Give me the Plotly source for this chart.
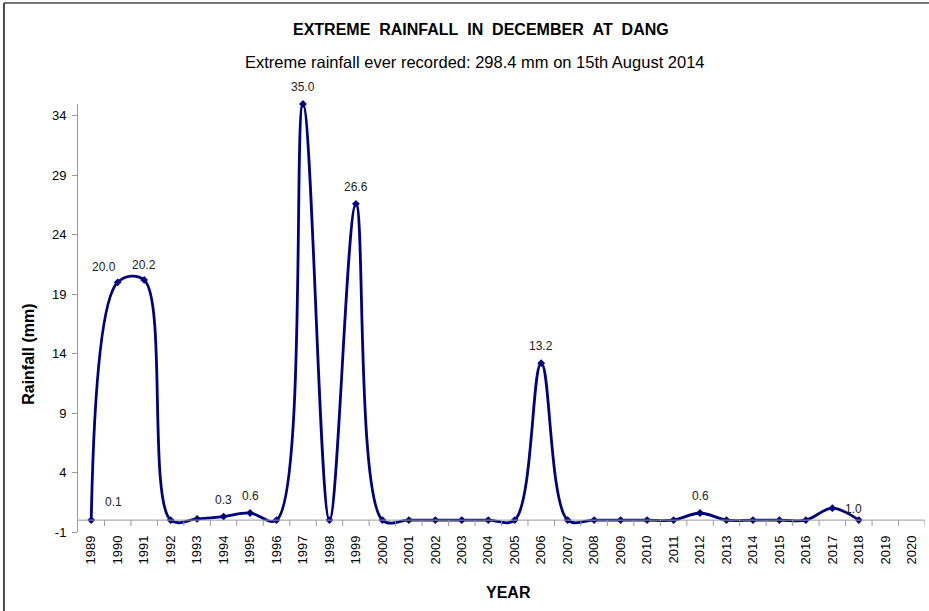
import plotly.graph_objects as go

years = [str(y) for y in range(1989, 2021)]
rainfall = [0, 20.0, 20.2, 0, 0.1, 0.3, 0.6, 0, 35.0, 0, 26.6, 0, 0, 0, 0, 0, 0, 13.2, 0,
            0, 0, 0, 0, 0.6, 0, 0, 0, 0, 1.0, 0, None, None]

# data labels as shown on the chart: (category where drawn, value shown, nudges in px)
label_years = ["1990", "1991", "1990", "1994", "1995", "1997", "1999", "2006", "2012", "2018"]
label_values = [20.0, 20.2, 0.1, 0.3, 0.6, 35.0, 26.6, 13.2, 0.6, 1.0]
label_xshift = [-14, 0, -4, 0, 0, 0, 0, 0, 0, -5]
label_yshift = [6, 6, 8, 8, 8, 8, 8, 8, 8, -10]

y_ticks = [-1, 4, 9, 14, 19, 24, 29, 34]
y_ticktext = ["-1", "4", "9", "14", "19", "24", "29", "34"]

NAVY = "#000080"
FONT = "Liberation Sans, Arial, sans-serif"

fig = go.Figure()
fig.add_trace(go.Scatter(
    x=years, y=rainfall, mode="lines+markers",
    line=dict(color=NAVY, width=2.8, shape="spline", smoothing=1.0),
    marker=dict(symbol="diamond", size=6, color=NAVY),
    connectgaps=False, cliponaxis=False, hoverinfo="x+y",
))

annotations = []
for yr, v, xs, ys in zip(label_years, label_values, label_xshift, label_yshift):
    annotations.append(dict(x=years.index(yr), y=v, xref="x", yref="y", text=f"{v:.1f}",
                            showarrow=False, xshift=xs, yshift=ys, xanchor="center",
                            yanchor="bottom", font=dict(size=12, color="#222", family=FONT)))

annotations += [
    dict(xref="paper", yref="paper", x=0.476, y=1.175, showarrow=False,
         xanchor="center", yanchor="middle",
         text="EXTREME\u00a0\u00a0RAINFALL\u00a0\u00a0IN\u00a0\u00a0DECEMBER\u00a0\u00a0AT\u00a0\u00a0DANG",
         font=dict(size=16, color="#000", family=FONT, weight="bold")),
    dict(xref="paper", yref="paper", x=0.469, y=1.098, showarrow=False,
         xanchor="center", yanchor="middle",
         text="Extreme rainfall ever recorded: 298.4 mm on 15th August 2014",
         font=dict(size=16.5, color="#000", family=FONT)),
    dict(xref="paper", yref="paper", x=-0.058, y=0.416, showarrow=False, textangle=-90,
         xanchor="center", yanchor="middle",
         text="Rainfall (mm)", font=dict(size=16, color="#000", family=FONT, weight="bold")),
    dict(xref="paper", yref="paper", x=0.508, y=-0.141, showarrow=False,
         xanchor="center", yanchor="middle",
         text="YEAR", font=dict(size=16, color="#000", family=FONT, weight="bold")),
]

shapes = [
    dict(type="line", xref="paper", yref="y", x0=0, x1=1, y0=0, y1=0,
         line=dict(color="#9a9a9a", width=1)),
    dict(type="line", xref="paper", yref="paper", x0=-0.0874, x1=1.01, y0=1.236, y1=1.236,
         line=dict(color="#777", width=2)),
    dict(type="line", xref="paper", yref="paper", x0=-0.0874, x1=-0.0874, y0=1.236, y1=-0.2,
         line=dict(color="#111", width=1.5)),
]
for i in range(len(years)):
    shapes.append(dict(type="line", xref="x", yref="y", x0=i + 0.5, x1=i + 0.5, y0=0, y1=-0.5,
                       line=dict(color="#9a9a9a", width=1)))

fig.update_layout(
    width=929, height=611,
    margin=dict(l=78, r=4, t=104, b=79),
    paper_bgcolor="white", plot_bgcolor="white",
    showlegend=False,
    font=dict(family=FONT, size=12, color="#000"),
    annotations=annotations, shapes=shapes,
    xaxis=dict(type="category", range=[-0.5, len(years) - 0.5], tickangle=-90,
               showline=False, showgrid=False, zeroline=False, ticks="",
               tickfont=dict(size=13, color="#000", family=FONT)),
    yaxis=dict(range=[-1, 35], tickvals=y_ticks, ticktext=y_ticktext, showgrid=False,
               zeroline=False, showline=True, linecolor="#9a9a9a", linewidth=1,
               ticks="outside", ticklen=5, tickcolor="#9a9a9a", ticklabelstandoff=3,
               tickfont=dict(size=13, color="#000", family=FONT)),
)

fig.write_html("out.html", post_script="document.body.style.margin='0';",
               config={"displayModeBar": False})
